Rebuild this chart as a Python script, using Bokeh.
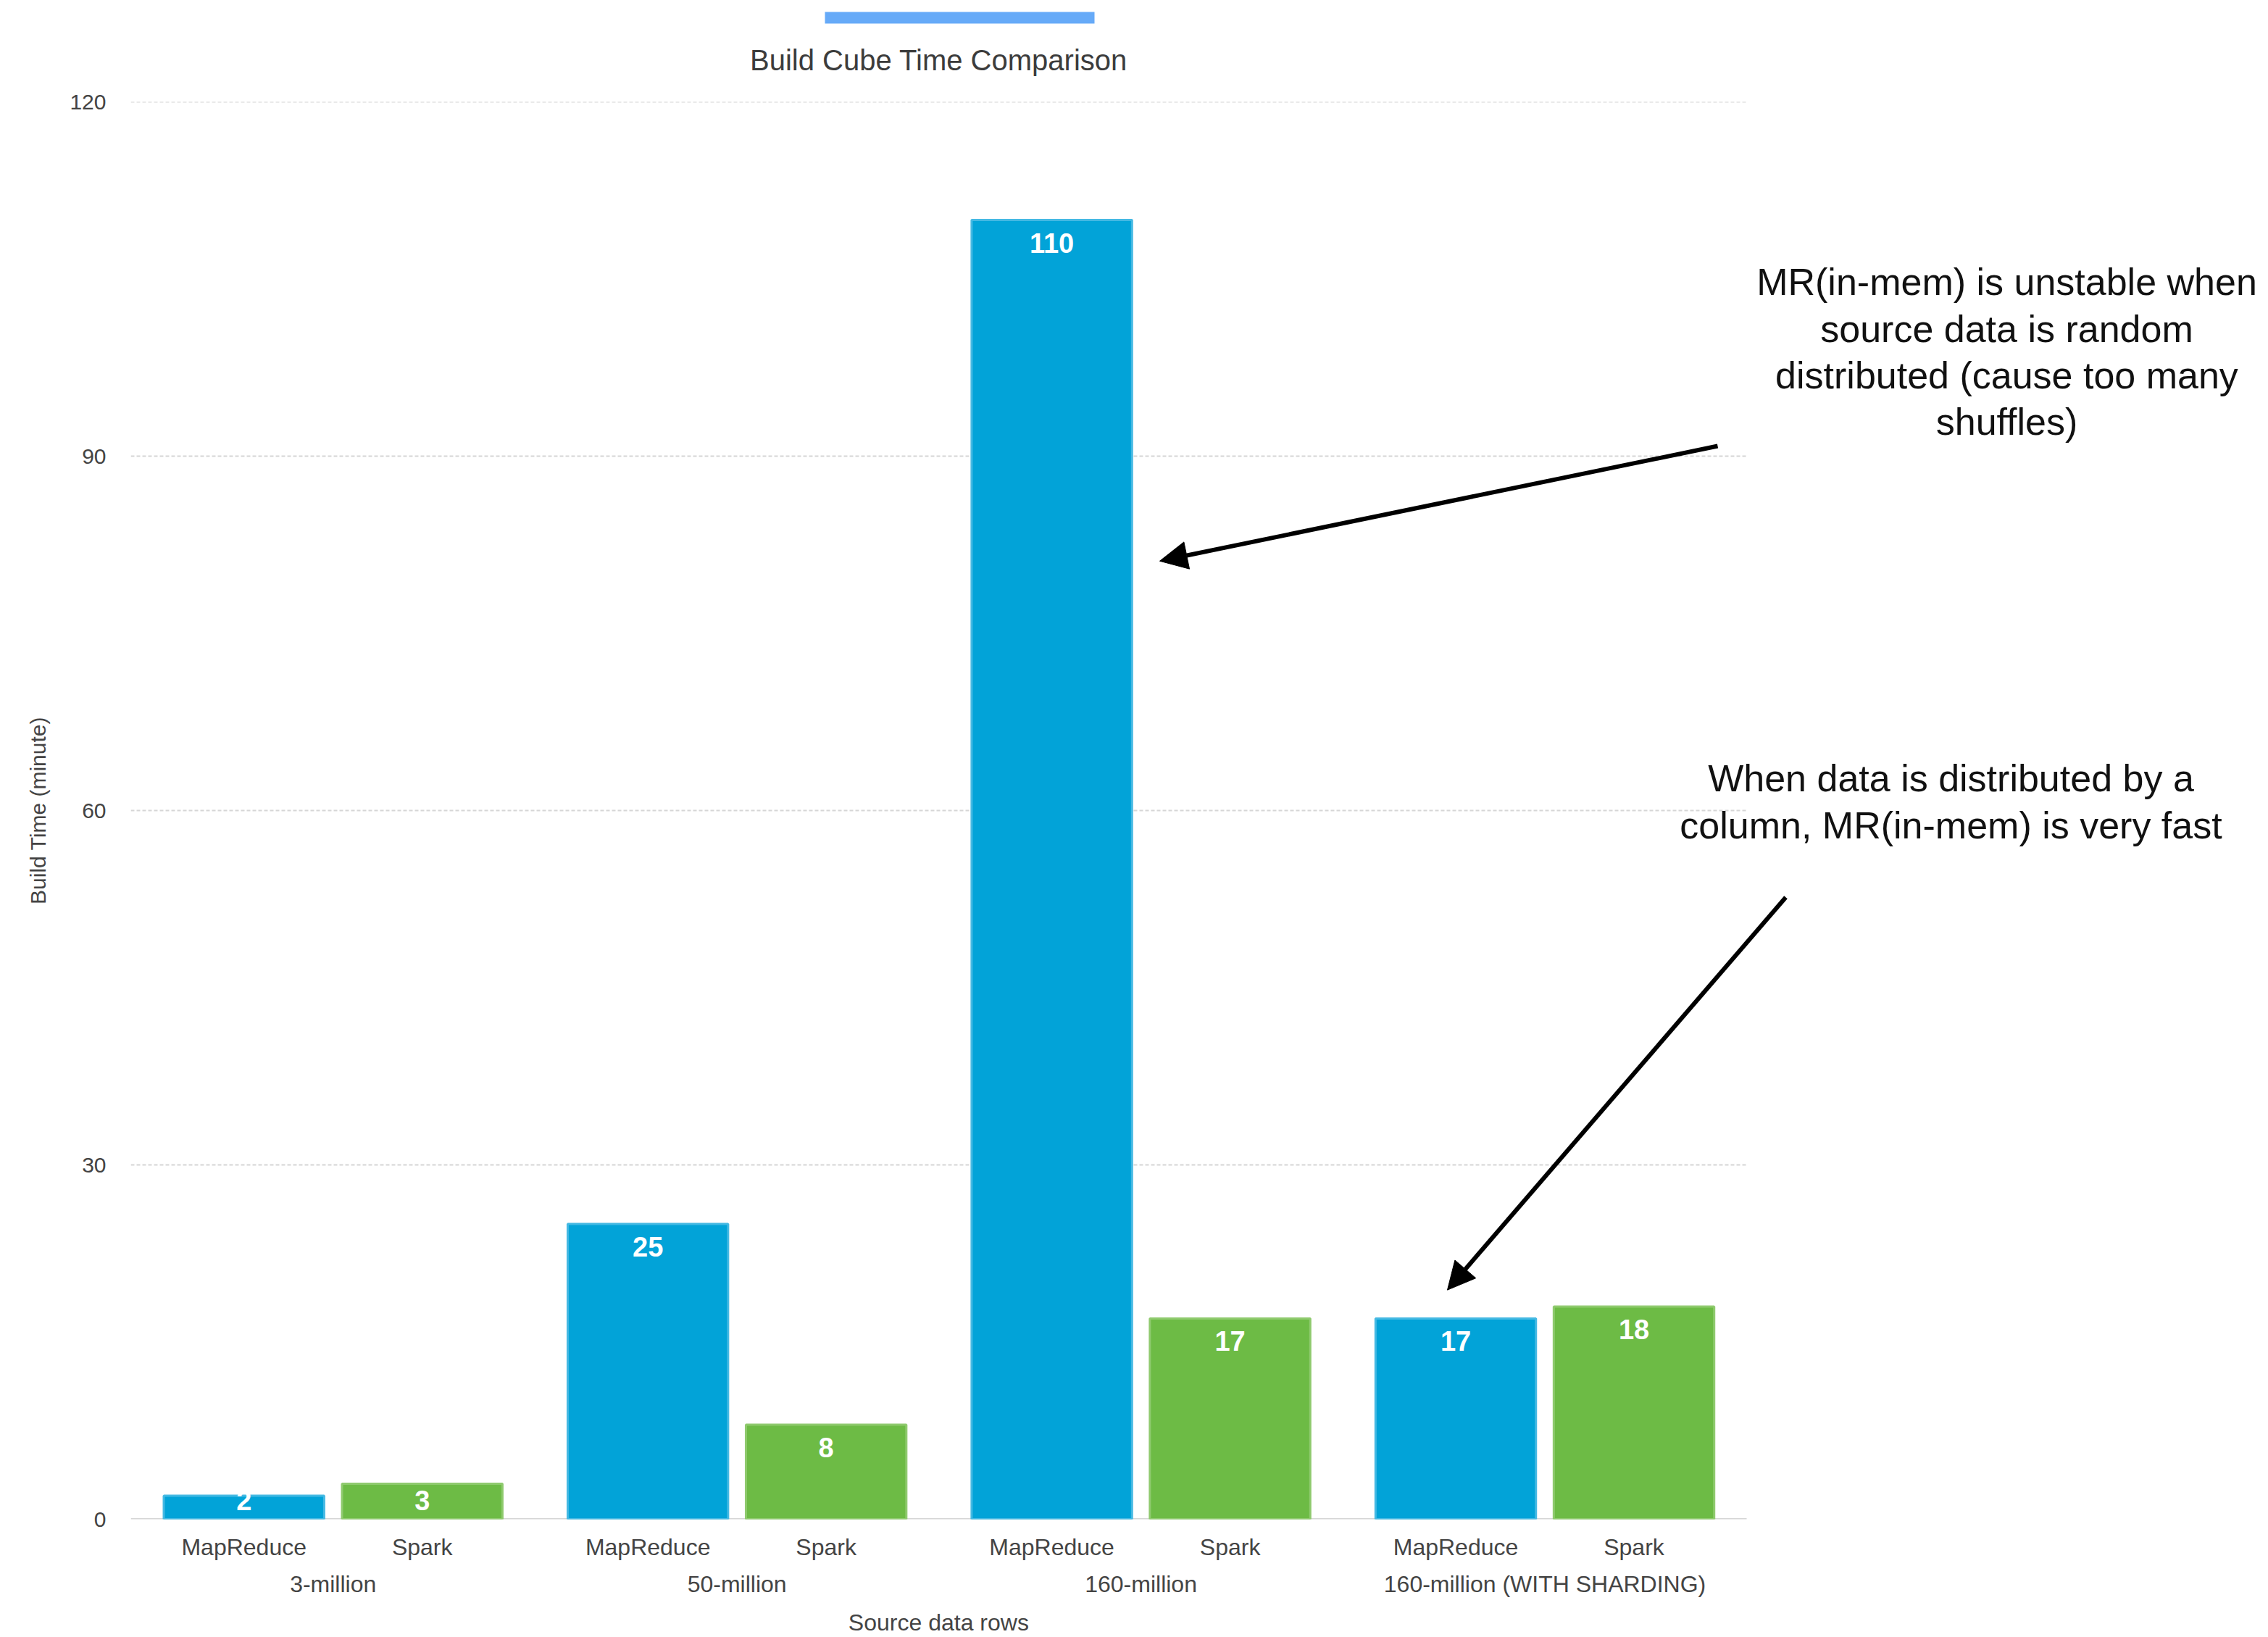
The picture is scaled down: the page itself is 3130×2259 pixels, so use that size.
from bokeh.plotting import figure
from bokeh.layouts import column
from bokeh.models import (Range1d, FixedTicker, ColumnDataSource, LinearAxis,
                          Label, Arrow, NormalHead)
from bokeh.core.properties import value
from bokeh.embed import file_html
from bokeh.resources import INLINE

# ---- data -------------------------------------------------------------
groups = ["3-million", "50-million", "160-million", "160-million (WITH SHARDING)"]
engines = ["MapReduce", "Spark"]
mapreduce_minutes = [2, 25, 110, 17]
spark_minutes = [3, 8, 17, 18]
y_ticks = [0, 30, 60, 90, 120]

BLUE, BLUE_EDGE = "#02a3d8", "#45b9e3"
GREEN, GREEN_EDGE = "#6dbb45", "#8fca6e"
FONT = "Liberation Sans"
TEXT_GREY = "#444444"

# ---- page geometry (pixels) -------------------------------------------
W, H = 3130, 2259
HEADER_H = 110            # title strip above the plot
FRAME_T = 140             # top of the value axis (page coordinates)
FRAME_L = 180             # left edge of the plotting area
BARS_R = 2410             # right end of grid / baseline
FRAME_B = 2100            # baseline (page coordinates)
MAIN_H = H - HEADER_H

# x positions in bar-slot units (1000 = distance between neighbouring bars)
SLOT, GROUP_GAP, BAR_W = 1000, 266, 900
X_START, BARS_END = -635, 8430
PX_PER_X = (BARS_R - FRAME_L) / (BARS_END - X_START)
X_END = BARS_END + (W - BARS_R) / PX_PER_X
PX_PER_Y = (FRAME_B - FRAME_T) / 120.0


def dx(px):
    return X_START + (px - FRAME_L) / PX_PER_X


def dy(py):
    return (FRAME_B - py) / PX_PER_Y


xs, tops, fills, edges, labels, label_y, tick_names = [], [], [], [], [], [], {}
group_centers, group_names = [], {}
for gi, (g, mr, sp) in enumerate(zip(groups, mapreduce_minutes, spark_minutes)):
    base = gi * (len(engines) * SLOT + GROUP_GAP)
    for ei, (eng, v) in enumerate(zip(engines, [mr, sp])):
        x = base + ei * SLOT
        xs.append(x)
        tops.append(v)
        fills.append(BLUE if ei == 0 else GREEN)
        edges.append(BLUE_EDGE if ei == 0 else GREEN_EDGE)
        labels.append(str(v))
        label_y.append(max(v, 3.5))
        tick_names[x] = eng
    c = base + (len(engines) - 1) * SLOT // 2
    group_centers.append(c)
    group_names[c] = g

src = ColumnDataSource(dict(x=xs, top=tops, fill=fills, edge=edges,
                            label=labels, label_y=label_y))

# ---- header: title and strip (shares the x scale of the plot) -----------
head = figure(width=W, height=HEADER_H, x_range=Range1d(X_START, X_END),
              y_range=Range1d(HEADER_H, 0),
              output_backend="svg", toolbar_location=None,
              x_axis_location=None, y_axis_location=None,
              min_border=0, outline_line_color=None)
head.grid.visible = False
head.quad(left=[dx(1138)], right=[dx(1510)], top=[16], bottom=[32],
          fill_color="#66aaf8", line_color=None)
head.add_layout(Label(x=(X_START + BARS_END) / 2, y=82, text="Build Cube Time Comparison",
                      text_align="center", text_baseline="middle", text_font=FONT,
                      text_font_size="40px", text_color="#3c3c3c"))

# ---- main plot ----------------------------------------------------------
p = figure(width=W, height=MAIN_H, x_range=Range1d(X_START, X_END), y_range=Range1d(0, 120),
           output_backend="svg", toolbar_location=None, x_axis_location=None,
           min_border_left=FRAME_L, min_border_right=0,
           min_border_top=FRAME_T - HEADER_H,
           min_border_bottom=H - FRAME_B, outline_line_color=None)
p.grid.visible = False

# dashed value grid and baseline, limited to the bar area
grid_y = [t for t in y_ticks if t > 0]
p.segment(x0=[X_START] * len(grid_y), x1=[BARS_END] * len(grid_y), y0=grid_y, y1=grid_y,
          line_color="#d6d6d6", line_width=2, line_dash="5 3")
p.segment(x0=[X_START], x1=[BARS_END], y0=[0], y1=[0], line_color="#d6d6d6", line_width=3)

p.vbar(x="x", top="top", width=BAR_W, source=src, fill_color="fill",
       line_color="edge", line_width=3)
p.text(x="x", y="label_y", text="label", source=src, text_align="center",
       text_baseline="top", y_offset=18, text_color="white",
       text_font=value(FONT), text_font_size="38px", text_font_style="bold")

# y axis
p.yaxis.ticker = FixedTicker(ticks=y_ticks)
p.yaxis.axis_line_color = None
p.yaxis.major_tick_line_color = None
p.yaxis.minor_tick_line_color = None
p.yaxis.major_tick_out = 0
p.yaxis.minor_tick_out = 0
p.yaxis.major_label_text_font = FONT
p.yaxis.major_label_text_font_size = "30px"
p.yaxis.major_label_text_color = TEXT_GREY
p.yaxis.major_label_standoff = 34
p.yaxis.axis_label = "Build Time (minute)"
p.yaxis.axis_label_text_font = FONT
p.yaxis.axis_label_text_font_size = "30px"
p.yaxis.axis_label_text_font_style = "normal"
p.yaxis.axis_label_text_color = TEXT_GREY
p.yaxis.axis_label_standoff = 24


def label_axis(ticks, names, standoff):
    ax = LinearAxis(ticker=FixedTicker(ticks=ticks), major_label_overrides=names)
    ax.axis_line_color = None
    ax.major_tick_line_color = None
    ax.minor_tick_line_color = None
    ax.major_tick_out = 0
    ax.minor_tick_out = 0
    ax.major_label_standoff = standoff
    ax.major_label_text_font = FONT
    ax.major_label_text_font_size = "32px"
    ax.major_label_text_color = TEXT_GREY
    return ax


# engine names, data-size groups, and the x title centred under the bars
p.add_layout(label_axis(xs, tick_names, 20), "below")
p.add_layout(label_axis(group_centers, group_names, 12), "below")
title_x = (X_START + BARS_END) // 2
p.add_layout(label_axis([title_x], {title_x: "Source data rows"}, 14), "below")

# ---- call-outs ---------------------------------------------------------
note_unstable = "MR(in-mem) is unstable when\nsource data is random\ndistributed (cause too many\nshuffles)"
note_fast = "When data is distributed by a\ncolumn, MR(in-mem) is very fast"

p.add_layout(Label(x=dx(2769), y=dy(486), text=note_unstable, text_align="center",
                   text_baseline="middle", text_font=FONT, text_font_size="52px",
                   text_line_height=1.11, text_color="#111111"))
p.add_layout(Label(x=dx(2692), y=dy(1108), text=note_fast, text_align="center",
                   text_baseline="middle", text_font=FONT, text_font_size="52px",
                   text_line_height=1.11, text_color="#111111"))

p.add_layout(Arrow(x_start=dx(2370), y_start=dy(616), x_end=dx(1600), y_end=dy(775),
                   line_color="black", line_width=6,
                   end=NormalHead(size=38, fill_color="black", line_color="black")))
p.add_layout(Arrow(x_start=dx(2464), y_start=dy(1240), x_end=dx(1997), y_end=dy(1783),
                   line_color="black", line_width=6,
                   end=NormalHead(size=38, fill_color="black", line_color="black")))

page = column(head, p, spacing=0)
open("out.html", "w").write(file_html(page, INLINE))
